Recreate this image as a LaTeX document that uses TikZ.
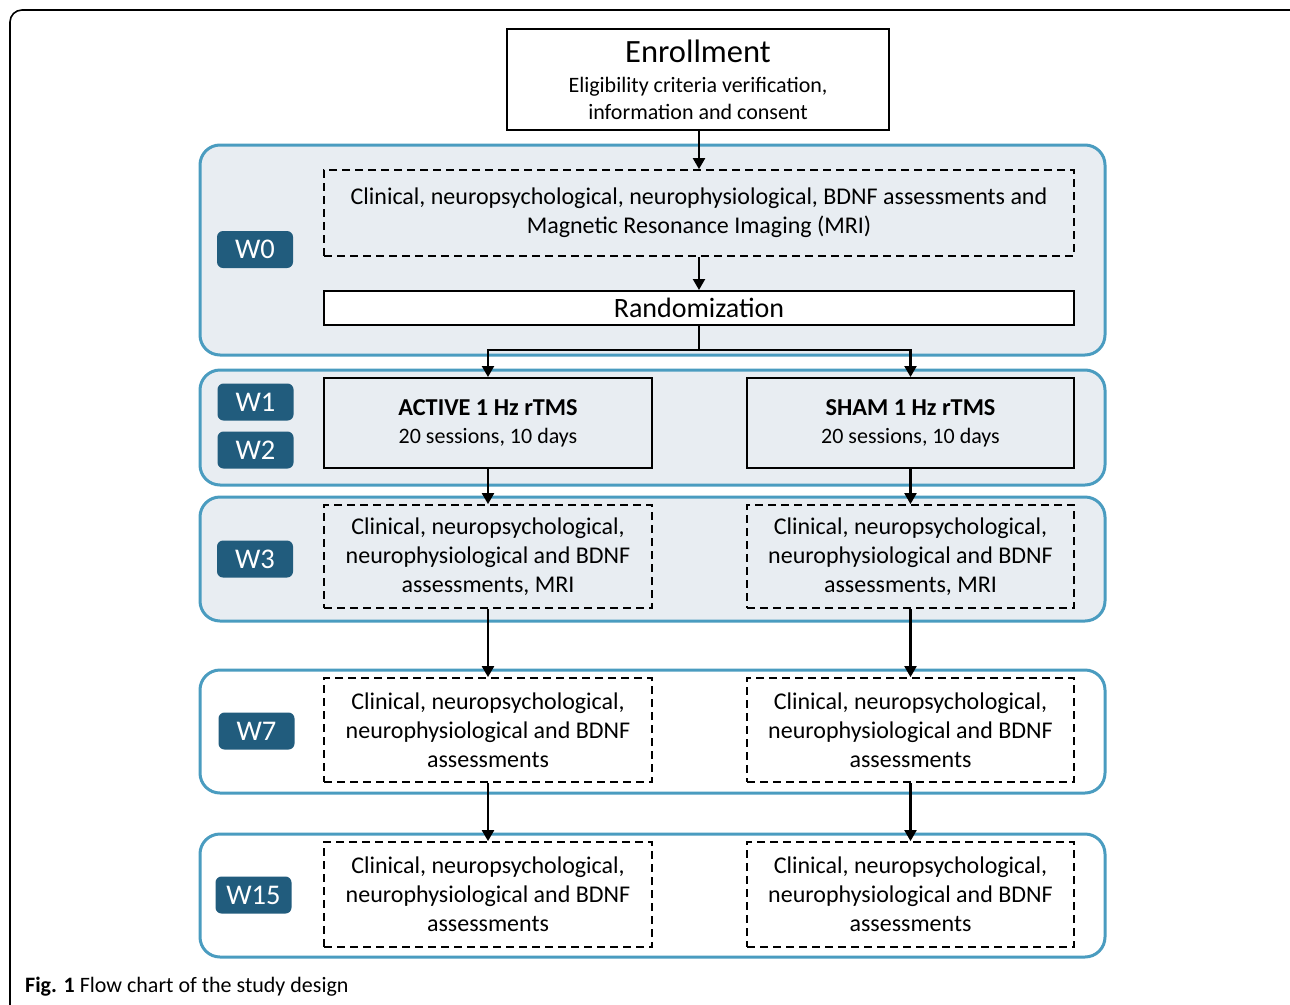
\documentclass[tikz,border=0pt]{standalone}
\usepackage{fontspec}
\setmainfont{Carlito}
\usetikzlibrary{arrows.meta}
\definecolor{panelblue}{HTML}{4A9CC0}
\definecolor{panelfill}{HTML}{E8EDF2}
\definecolor{labblue}{HTML}{215C7D}
\tikzset{
  panel/.style={draw=panelblue, line width=3pt, rounded corners=20pt, fill=panelfill, minimum width=905pt, inner sep=0pt},
  panelw/.style={panel, fill=white},
  solidbox/.style={draw=black, line width=2pt, fill=white, align=center, inner sep=0pt, font=\fontsize{24}{29}\selectfont},
  dashbox/.style={draw=black, line width=1.8pt, dash pattern=on 8pt off 5pt, align=center, inner sep=0pt, font=\fontsize{24}{29}\selectfont},
  wlab/.style={fill=labblue, text=white, rounded corners=6pt, minimum width=76pt, minimum height=37pt, inner sep=0pt, font=\fontsize{28.5}{30}\selectfont},
  arr/.style={draw=black, line width=2.2pt, -{Triangle[length=11pt,width=12pt]}},
  conn/.style={draw=black, line width=2.2pt},
}
\begin{document}
\begin{tikzpicture}[x=1pt,y=-1pt]
\useasboundingbox (0,0) rectangle (1290,1004);
\fill[white] (0,0) rectangle (1290,1004);
\begin{scope}
\clip (0,0) rectangle (1290,1004);
\draw[line width=1.6pt, rounded corners=12pt] (10,1030) -- (10,10) -- (1300,10);
\end{scope}
% panels
\node[panel, minimum height=210pt] (p0) at (652.5,250) {};
\node[panel, minimum height=115pt] (p1) at (652.5,427.5) {};
\node[panel, minimum height=124pt] (p3) at (652.5,559) {};
\node[panelw, minimum height=123pt] (p7) at (652.5,731.5) {};
\node[panelw, minimum height=123pt] (p15) at (652.5,895.5) {};
% labels
\node[wlab] (l0) at (255,249.5) {W0};
\node[wlab] (l1) at (255.5,402) {W1};
\node[wlab] (l2) at (255.5,450) {W2};
\node[wlab] (l3) at (255,559) {W3};
\node[wlab] (l7) at (256.5,731) {W7};
\node[wlab] (l15) at (253.5,895) {W15};
% boxes
\node[solidbox, minimum width=382pt, minimum height=101pt, font=\fontsize{22}{27}\selectfont] (enr) at (698,79.5)
  {{\fontsize{32.5}{34}\selectfont Enrollment}\\[3pt]Eligibility criteria verification,\\information and consent};
\node[dashbox, minimum width=750pt, minimum height=86pt] (b0) at (699,213)
  {Clinical, neuropsychological, neurophysiological, BDNF assessments and\\Magnetic Resonance Imaging (MRI)};
\node[solidbox, minimum width=750pt, minimum height=34pt, font=\fontsize{28}{30}\selectfont] (rand) at (699,308) {Randomization};
\node[solidbox, minimum width=328pt, minimum height=90pt, fill=none, font=\fontsize{22}{28}\selectfont] (act) at (488,423)
  {{\fontsize{24.3}{28}\selectfont\textbf{ACTIVE 1 Hz rTMS}}\\20 sessions, 10 days};
\node[solidbox, minimum width=327pt, minimum height=90pt, fill=none, font=\fontsize{22}{28}\selectfont] (sham) at (910.5,423)
  {{\fontsize{24.3}{28}\selectfont\textbf{SHAM 1 Hz rTMS}}\\20 sessions, 10 days};
\node[dashbox, minimum width=328pt, minimum height=103pt] (a3) at (488,556.5)
  {Clinical, neuropsychological,\\neurophysiological and BDNF\\assessments, MRI};
\node[dashbox, minimum width=327pt, minimum height=103pt] (s3) at (910.5,556.5)
  {Clinical, neuropsychological,\\neurophysiological and BDNF\\assessments, MRI};
\node[dashbox, minimum width=328pt, minimum height=104pt] (a7) at (488,730)
  {Clinical, neuropsychological,\\neurophysiological and BDNF\\assessments};
\node[dashbox, minimum width=327pt, minimum height=104pt] (s7) at (910.5,730)
  {Clinical, neuropsychological,\\neurophysiological and BDNF\\assessments};
\node[dashbox, minimum width=328pt, minimum height=105pt] (a15) at (488,894.5)
  {Clinical, neuropsychological,\\neurophysiological and BDNF\\assessments};
\node[dashbox, minimum width=327pt, minimum height=105pt] (s15) at (910.5,894.5)
  {Clinical, neuropsychological,\\neurophysiological and BDNF\\assessments};
% connectors
\draw[arr] (enr.south -| b0.north) -- (b0.north);
\draw[arr] (b0.south) -- (rand.north);
\coordinate (split) at (699,350);
\draw[conn] (rand.south) -- (split);
\draw[arr] (split) -| (act.north);
\draw[arr] (split) -| (sham.north);
\draw[arr] (act.south) -- (a3.north);
\draw[arr] (sham.south) -- (s3.north);
\draw[arr] (a3.south) -- (a7.north);
\draw[arr] (s3.south) -- (s7.north);
\draw[arr] (a7.south) -- (a15.north);
\draw[arr] (s7.south) -- (s15.north);
% caption
\node[anchor=base west, inner sep=0pt, font=\fontsize{22}{26}\selectfont] (cap) at (25,992)
  {\textbf{Fig. 1} Flow chart of the study design};
\end{tikzpicture}
\end{document}
